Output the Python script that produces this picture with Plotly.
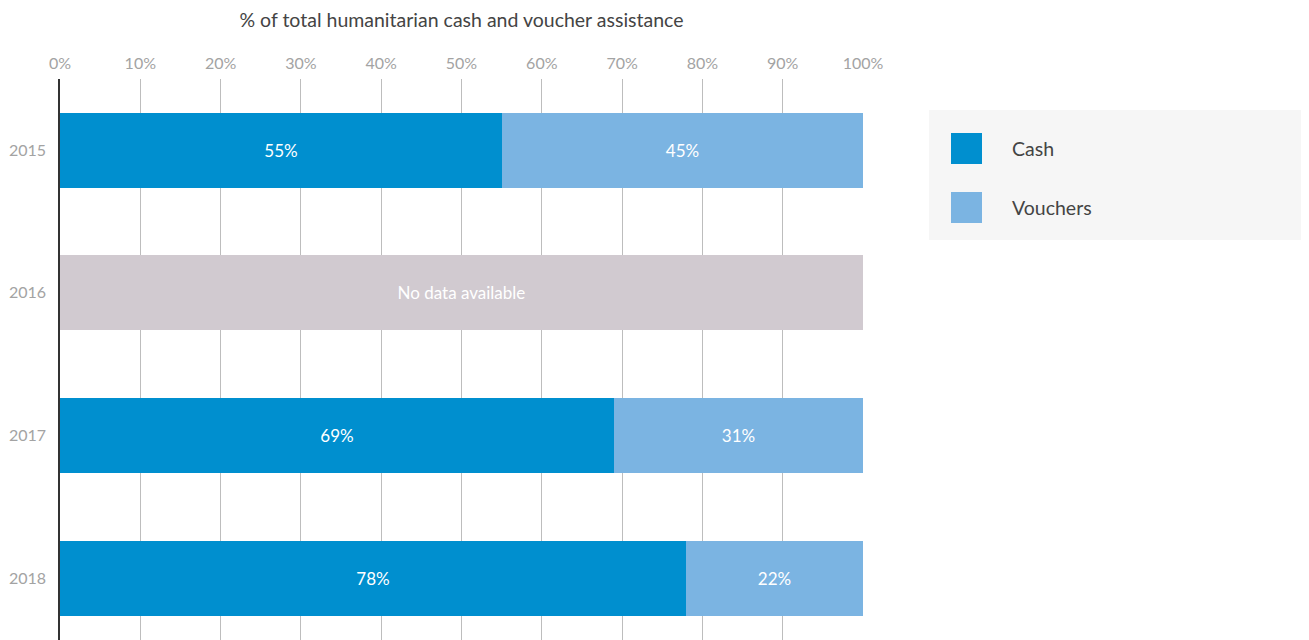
import plotly.graph_objects as go

years = ["2015", "2016", "2017", "2018"]
cash = [55, None, 69, 78]
vouchers = [45, None, 31, 22]
no_data = [None, 100, None, None]
no_data_label = "No data available"
series_names = ["Cash", "Vouchers"]
colors = ["#008fcf", "#7bb4e2"]
nodata_color = "#d1cad0"
x_ticks = list(range(0, 101, 10))
axis_title = "% of total humanitarian cash and voucher assistance"

FONT = "Lato"
OFF = 8  # page body margin offset
W, H = 1309 - OFF, 640 - OFF
L, T = 60 - OFF, 79 - OFF
R = W - (863 - OFF)
PW, PH = W - L - R, H - T


def px(x):
    return (x - OFF - L) / PW


def py(y):
    return 1 - (y - OFF - T) / PH


fig = go.Figure()
for name, vals, col in zip(series_names, [cash, vouchers], colors):
    fig.add_trace(go.Bar(
        y=years, x=vals, name=name, orientation="h",
        marker=dict(color=col, line=dict(width=0)),
        text=[f"{v}%" if v is not None else "" for v in vals],
        textposition="inside", insidetextanchor="middle",
        textfont=dict(color="white", size=17, family=FONT),
        width=0.525, showlegend=False,
    ))
fig.add_trace(go.Bar(
    y=years, x=no_data, name="No data", orientation="h",
    marker=dict(color=nodata_color, line=dict(width=0)),
    text=[no_data_label if v is not None else "" for v in no_data],
    textposition="inside", insidetextanchor="middle",
    textfont=dict(color="white", size=18.5, family=FONT),
    width=0.525, showlegend=False,
))

fig.update_layout(
    width=W, height=H,
    margin=dict(l=L, r=R, t=T, b=0),
    barmode="stack",
    plot_bgcolor="white", paper_bgcolor="white",
    font=dict(family=FONT, color="#999999", size=16),
    bargap=0,
    uniformtext=dict(mode="show", minsize=10),
)
fig.update_xaxes(
    side="top", range=[0, 100], tickvals=x_ticks,
    ticktext=[f"{t}%" for t in x_ticks],
    showgrid=True, gridcolor="#bdbdbd", gridwidth=1,
    zeroline=False, showline=False, ticks="",
    ticklabelstandoff=6,
    tickfont=dict(size=16, color="#a3a3a3", family=FONT),
    title=dict(text=axis_title, font=dict(size=19.5, color="#444444", family=FONT), standoff=22),
)
fig.update_yaxes(
    range=[3.434, -0.498], showgrid=False, zeroline=False,
    showline=True, linecolor="#333333", linewidth=1.5,
    ticks="", tickfont=dict(size=16, color="#a3a3a3", family=FONT),
    ticklabelstandoff=9,
)

# legend panel
fig.add_shape(type="rect", xref="paper", yref="paper",
              x0=px(929), x1=px(1330), y0=py(240), y1=py(110),
              fillcolor="#f6f6f6", line=dict(width=0), layer="below")
for i, (name, col) in enumerate(zip(series_names, colors)):
    top = 133 + i * 59
    fig.add_shape(type="rect", xref="paper", yref="paper",
                  x0=px(951), x1=px(982), y0=py(top + 31), y1=py(top),
                  fillcolor=col, line=dict(width=0))
    fig.add_annotation(xref="paper", yref="paper",
                       x=px(1013), y=py(top + 15.5),
                       text=name, showarrow=False, xanchor="left", yanchor="middle",
                       xshift=-3,
                       font=dict(size=19.5, color="#444444", family=FONT))

fig.write_html("out.html")
